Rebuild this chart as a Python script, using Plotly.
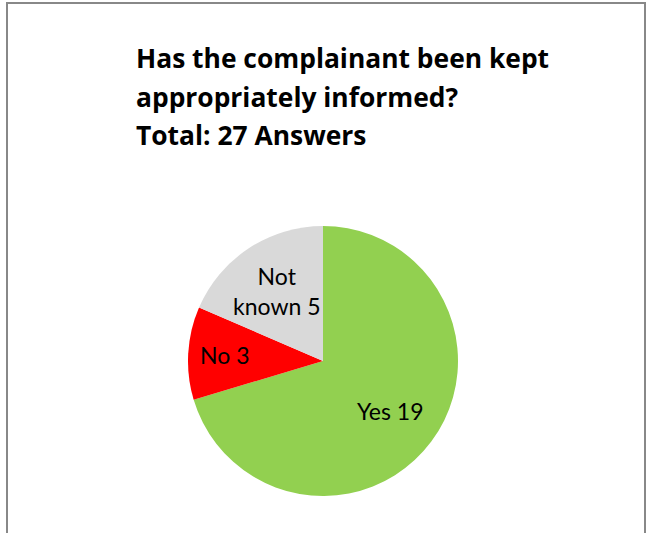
import math
import plotly.graph_objects as go

categories = ["Yes", "No", "Not known"]
values = [19, 3, 5]
colors = ["#92D050", "#FF0000", "#D9D9D9"]
label_texts = ["Yes 19", "No 3", "Not<br>known 5"]
label_radius_frac = [0.62, 0.73, 0.62]
title_lines = ["Has the complainant been kept", "appropriately informed?", "Total: 27 Answers"]

W, H = 647, 533
cx, cy, r = 323, 361, 135

fig = go.Figure(go.Pie(
    labels=categories,
    values=values,
    textinfo="none",
    sort=False,
    direction="clockwise",
    rotation=0,
    marker=dict(colors=colors, line=dict(width=0)),
    showlegend=False,
    hoverinfo="label+value",
    domain=dict(x=[(cx - r) / W, (cx + r) / W], y=[(H - cy - r) / H, (H - cy + r) / H]),
))

# slice labels placed at each slice's mid-angle (clockwise from 12 o'clock)
total = sum(values)
cum = 0
for txt, v, f in zip(label_texts, values, label_radius_frac):
    mid = (cum + v / 2) / total * 2 * math.pi
    cum += v
    px = cx + f * r * math.sin(mid)
    py = cy - f * r * math.cos(mid)
    fig.add_annotation(
        text=txt, xref="paper", yref="paper", x=px / W, y=1 - py / H,
        xanchor="center", yanchor="middle", showarrow=False,
        font=dict(family="Lato", size=23, color="black"),
    )

centers = [58, 97, 135]
for line, c in zip(title_lines, centers):
    fig.add_annotation(
        text=f"<b>{line}</b>", xref="paper", yref="paper",
        x=134 / W, y=1 - c / H, xanchor="left", yanchor="middle",
        showarrow=False, font=dict(family="Open Sans", size=26.4, color="black"),
    )

fig.add_shape(type="rect", xref="paper", yref="paper",
              x0=7 / W, x1=645 / W, y0=-0.2, y1=1 - 3 / H,
              line=dict(color="#888888", width=2), fillcolor="rgba(0,0,0,0)")

fig.update_layout(
    width=W, height=H,
    margin=dict(l=0, r=0, t=0, b=0),
    paper_bgcolor="white", plot_bgcolor="white",
)

fig.write_html("out.html")
